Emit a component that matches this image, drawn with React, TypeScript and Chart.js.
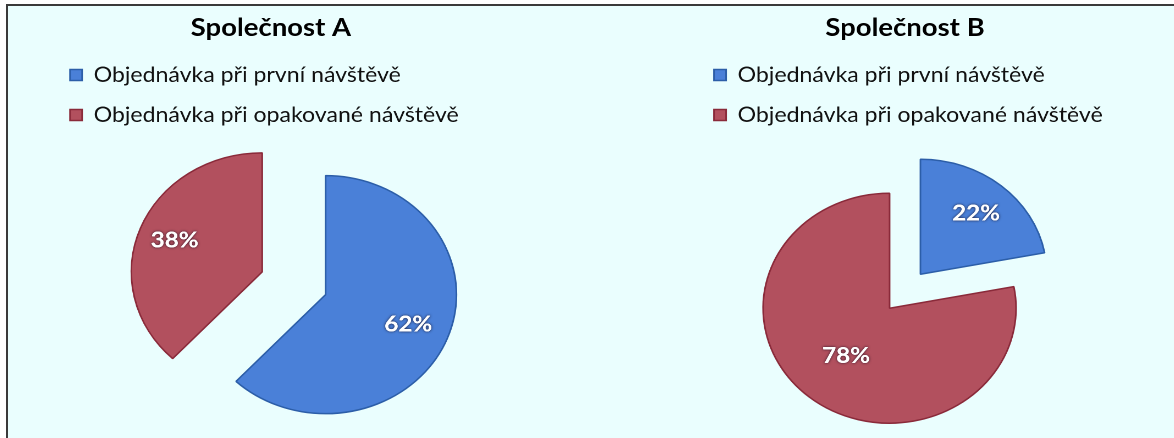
import { useEffect, useRef } from 'react';
import { Chart, registerables, layouts } from 'chart.js';

Chart.register(...registerables);

// Legend categories shared by both pies
const categories = ['Objednávka při první návštěvě', 'Objednávka při opakované návštěvě'];
// Share of orders (%) per company, in category order
const companyA = [62, 38];
const companyB = [22, 78];
const chartTitles = ['Společnost A', 'Společnost B'];

const FONT = 'Lato, "Open Sans", sans-serif';
const FILLS = ['#4a80d8', '#b2505e'];
const EDGES = ['#2c5ea8', '#8a2a3a'];

// Each canvas is laid out at this size and displayed slightly wider
const CW = 502;
const CH = 460;
const STRETCH = 1.1;

// Empty left-hand layout box: nudges the plot area to the right while the
// full-width title and legend keep their own placement
const spacerPlugin = {
  id: 'leftSpacer',
  beforeInit(chart: any) {
    const box: any = {
      position: 'left',
      weight: 0,
      fullSize: false,
      options: {},
      left: 0,
      top: 0,
      right: 0,
      bottom: 0,
      width: 0,
      height: 0,
      isHorizontal() {
        return false;
      },
      update(_maxWidth: number, maxHeight: number) {
        this.width = chart.options.plugins?.leftSpacer?.width || 0;
        this.height = maxHeight;
      },
      draw() {},
    };
    layouts.addBox(chart, box);
  },
};

// Pulls every slice away from the pie centre along its bisector
const explodePlugin = {
  id: 'explode',
  afterDatasetUpdate(chart: any, args: any, opts: any) {
    const d = opts.distance || 0;
    for (const arc of args.meta.data) {
      const mid = (arc.startAngle + arc.endAngle) / 2;
      arc.x += Math.cos(mid) * d;
      arc.y += Math.sin(mid) * d;
    }
  },
};

// Percentage labels inside the slices
const sliceLabelPlugin = {
  id: 'sliceLabels',
  afterDatasetsDraw(chart: any, _args: any, opts: any) {
    const { ctx } = chart;
    const meta = chart.getDatasetMeta(0);
    const values = chart.data.datasets[0].data;
    meta.data.forEach((arc: any, i: number) => {
      const mid = (arc.startAngle + arc.endAngle) / 2;
      const r = arc.outerRadius * (opts.radii?.[i] ?? 0.65);
      const x = arc.x + Math.cos(mid) * r;
      const y = arc.y + Math.sin(mid) * r;
      ctx.save();
      ctx.font = `bold ${opts.size}px ${FONT}`;
      ctx.textAlign = 'center';
      ctx.textBaseline = 'middle';
      ctx.shadowColor = 'rgba(20, 10, 30, 0.9)';
      ctx.shadowBlur = 5;
      ctx.fillStyle = '#ffffff';
      ctx.fillText(`${values[i]}%`, x, y);
      ctx.shadowBlur = 0;
      ctx.fillText(`${values[i]}%`, x, y);
      ctx.restore();
    });
  },
};

type PieProps = {
  title: string;
  values: number[];
  left: number;
  padLeft: number;
  padRight: number;
  spacer: number;
  padBottom: number;
  radius: number;
  explode: number;
  labelRadii: number[];
};

function CompanyPie({
  title,
  values,
  left,
  padLeft,
  padRight,
  spacer,
  padBottom,
  radius,
  explode,
  labelRadii,
}: PieProps) {
  const ref = useRef<HTMLCanvasElement>(null);

  useEffect(() => {
    const chart = new Chart(ref.current!, {
      type: 'pie',
      data: {
        labels: categories,
        datasets: [
          {
            data: values,
            backgroundColor: FILLS,
            borderColor: EDGES,
            borderWidth: 1.5,
            radius,
          } as any,
        ],
      },
      options: {
        responsive: false,
        animation: false,
        devicePixelRatio: 2,
        layout: { padding: { left: padLeft, right: padRight, top: 0, bottom: padBottom } },
        plugins: {
          title: {
            display: true,
            text: title,
            color: '#000000',
            font: { family: FONT, size: 25, weight: 'bold' },
            padding: { top: 7, bottom: 2.5 },
          },
          legend: {
            position: 'top',
            align: 'start',
            labels: {
              boxWidth: 11,
              boxHeight: 11,
              padding: 19,
              color: '#111111',
              font: { family: FONT, size: 21 },
            },
          },
          tooltip: { enabled: false },
          leftSpacer: { width: spacer },
          explode: { distance: explode },
          sliceLabels: { radii: labelRadii, size: 22 },
        } as any,
      },
      plugins: [spacerPlugin, explodePlugin, sliceLabelPlugin],
    });
    return () => chart.destroy();
  }, []);

  return (
    <div style={{ position: 'absolute', left, top: 0 }}>
      <canvas
        ref={ref}
        width={CW}
        height={CH}
        style={{ display: 'block', width: `${CW * STRETCH}px`, height: `${CH}px` }}
      />
    </div>
  );
}

export default function App() {
  return (
    <div
      style={{
        position: 'absolute',
        left: 6,
        top: 4,
        width: 1168,
        height: 434,
        borderTop: '2px solid #3a3a3a',
        borderLeft: '2px solid #3a3a3a',
        background: '#eafefe',
        overflow: 'hidden',
      }}
    >
      <CompanyPie
        title={chartTitles[0]}
        values={companyA}
        left={0}
        padLeft={37.4}
        padRight={61.2}
        spacer={41.8}
        padBottom={35}
        radius={119}
        explode={31}
        labelRadii={[0.68, 0.72]}
      />
      <CompanyPie
        title={chartTitles[1]}
        values={companyB}
        left={621}
        padLeft={58.3}
        padRight={58.3}
        spacer={0}
        padBottom={19}
        radius={115}
        explode={22}
        labelRadii={[0.69, 0.54]}
      />
    </div>
  );
}
